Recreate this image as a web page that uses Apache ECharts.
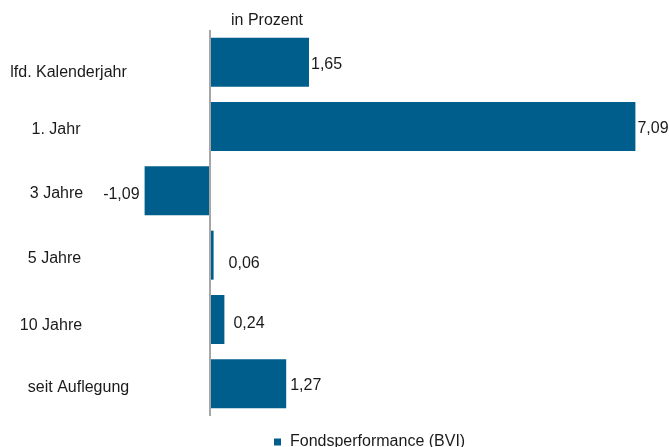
<!DOCTYPE html>
<html>
<head>
<meta charset="utf-8">
<script src="https://cdn.jsdelivr.net/npm/echarts@6/dist/echarts.min.js"></script>
<style>
  html, body { margin: 0; padding: 0; background: #fff; }
  #chart { width: 669px; height: 447px; }
</style>
</head>
<body>
<div id="chart"></div>
<script>
// Kategorien und Werte (in Prozent)
const categories = ['lfd. Kalenderjahr', '1. Jahr', '3 Jahre', '5 Jahre', '10 Jahre', 'seit Auflegung'];
const values = [1.65, 7.09, -1.09, 0.06, 0.24, 1.27];
const seriesName = 'Fondsperformance (BVI)';

const fmt = v => v.toFixed(2).replace('.', ',');

// kleine Balken: Beschriftung etwas versetzt wie im Original
const labelShift = [[0, 2], [0, 2], [-3, 4], [13, 8], [7, 4], [2, 2]];
// Kategorie-Beschriftungen sitzen im Original nicht ganz mittig
const catPad = [[20, 35], [6, 10], [6, 11], [6, 7], [12, 0], [8, 55]];

const rich = {};
catPad.forEach((p, i) => {
  rich['c' + i] = { fontSize: 16, color: '#1a1a1a', padding: [p[0], 0, 0, p[1]] };
});

const chart = echarts.init(document.getElementById('chart'));

const option = {
  animation: false,
  textStyle: { fontFamily: 'Liberation Sans, Arial, sans-serif' },
  title: {
    text: 'in Prozent',
    left: 226,
    top: 8,
    textStyle: { fontSize: 16, fontWeight: 'normal', color: '#1a1a1a' }
  },
  legend: {
    top: 429,
    left: 269,
    icon: 'rect',
    itemWidth: 7,
    itemHeight: 7,
    itemGap: 6,
    textStyle: { fontSize: 16, color: '#1a1a1a', padding: [0, 0, 0, 4] },
    data: [seriesName]
  },
  grid: { left: 120, right: 9, top: 30, bottom: 31, containLabel: false },
  xAxis: {
    type: 'value',
    min: -1.5,
    max: 7.5,
    show: false
  },
  yAxis: {
    type: 'category',
    inverse: true,
    data: categories,
    axisLine: { show: false, onZero: false },
    axisTick: { show: false },
    axisLabel: {
      align: 'center',
      margin: 69,
      fontSize: 16,
      color: '#1a1a1a',
      formatter: (val, idx) => '{c' + idx + '|' + val + '}',
      rich: rich
    }
  },
  series: [{
    name: seriesName,
    type: 'bar',
    barWidth: 49,
    itemStyle: { color: '#005e8d' },
    data: values.map((v, i) => ({
      value: v,
      label: {
        position: v < 0 ? 'left' : 'right',
        offset: labelShift[i]
      }
    })),
    label: {
      show: true,
      distance: 2,
      fontSize: 16,
      color: '#1a1a1a',
      formatter: p => fmt(p.value)
    },
    markLine: {
      silent: true,
      symbol: 'none',
      label: { show: false },
      lineStyle: { color: '#a6a6a6', width: 2, type: 'solid' },
      data: [{ xAxis: 0 }]
    }
  }]
};

chart.setOption(option);
</script>
</body>
</html>
